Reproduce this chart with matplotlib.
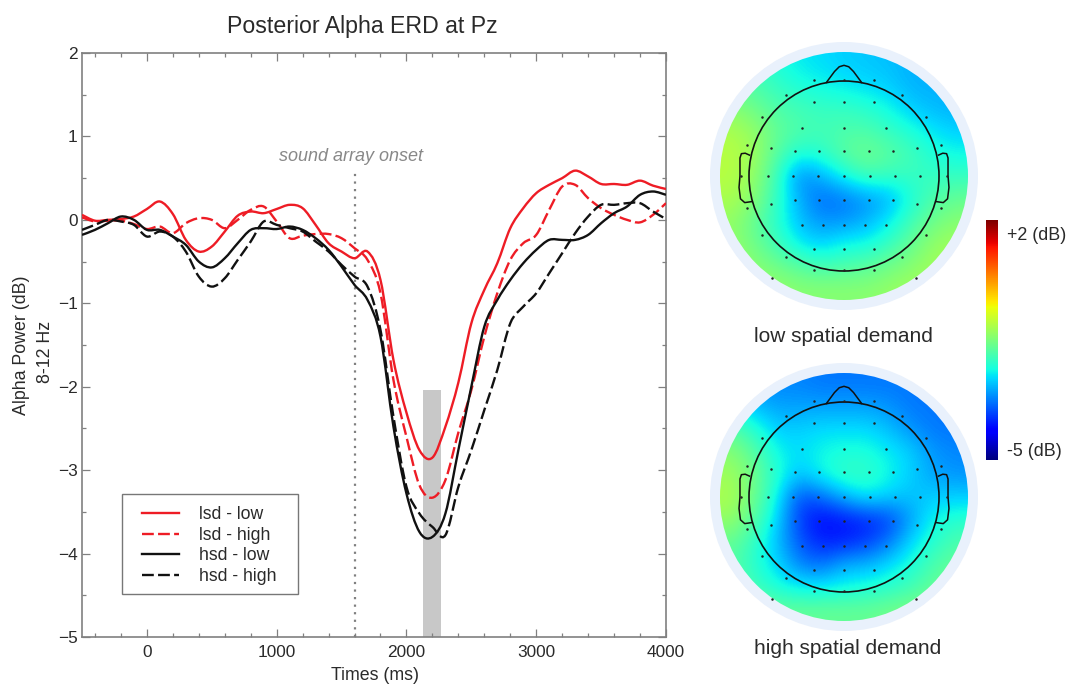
import numpy as np
import matplotlib
matplotlib.use("Agg")
import matplotlib.pyplot as plt
from matplotlib.patches import Circle, PathPatch, Rectangle
from matplotlib.path import Path
from matplotlib.lines import Line2D
from matplotlib.ticker import MultipleLocator

plt.rcParams['font.family'] = ['Liberation Sans', 'DejaVu Sans']

times = [-500,-400,-300,-200,-100,0,100,200,300,400,500,600,700,800,900,1000,1100,1200,1300,1400,1500,1600,
         1700,1800,1900,2000,2100,2200,2300,2400,2500,2600,2700,2800,2900,3000,3100,3200,3300,3400,3500,3600,3700,3800,3900,4000]
lsd_low = [.06,-.01,0,.01,.04,.13,.22,.07,-.24,-.38,-.32,-.14,.05,.10,.08,.13,.18,.14,-.06,-.28,-.38,-.46,
           -.38,-.72,-1.68,-2.31,-2.76,-2.85,-2.48,-1.95,-1.24,-.84,-.52,-.10,.14,.32,.42,.50,.59,.52,.43,.43,.42,.47,.41,.37]
lsd_high = [.03,-.02,-.01,-.01,-.05,-.11,-.08,-.16,-.04,.02,0,-.10,0,.12,.16,-.02,-.22,-.19,-.17,-.17,-.22,-.34,
            -.48,-.88,-1.92,-2.60,-3.18,-3.33,-3.12,-2.55,-2.04,-1.40,-.88,-.48,-.28,-.18,.12,.40,.42,.26,.14,.06,0,-.03,.06,.20]
hsd_low = [-.18,-.12,-.04,.04,0,-.12,-.12,-.20,-.30,-.50,-.57,-.46,-.28,-.12,-.10,-.11,-.08,-.12,-.22,-.36,-.56,-.78,
           -.96,-1.40,-2.48,-3.28,-3.74,-3.80,-3.52,-2.76,-2.0,-1.28,-.96,-.72,-.52,-.36,-.24,-.24,-.24,-.18,-.04,.08,.16,.30,.34,.30]
hsd_high = [-.12,-.06,0,-.02,-.06,-.20,-.14,-.20,-.38,-.68,-.80,-.70,-.48,-.26,-.02,-.06,-.10,-.14,-.26,-.38,-.54,-.68,
            -.80,-1.32,-2.36,-3.20,-3.52,-3.68,-3.78,-3.20,-2.76,-2.28,-1.80,-1.24,-1.04,-.88,-.64,-.40,-.16,.04,.18,.18,.20,.20,.10,.01]
series_labels = ['lsd - low', 'lsd - high', 'hsd - low', 'hsd - high']

topo_low = [
 [-2.0,-2.1,-2.3,-2.5,-2.6,-2.7,-2.75,-2.8,-2.9,-2.9,-2.9],
 [-1.8,-1.9,-2.1,-2.3,-2.4,-2.5,-2.6,-2.7,-2.9,-2.9,-2.9],
 [-1.4,-1.6,-1.9,-2.0,-2.1,-2.1,-2.2,-2.4,-2.7,-2.85,-2.9],
 [-1.1,-1.3,-1.7,-1.9,-2.0,-1.9,-1.9,-2.1,-2.3,-2.55,-2.7],
 [-1.0,-1.2,-1.8,-2.3,-2.2,-1.8,-1.6,-1.8,-2.0,-2.3,-2.4],
 [-1.0,-1.3,-2.0,-3.2,-2.9,-2.4,-2.0,-2.1,-2.1,-2.1,-2.1],
 [-1.1,-1.4,-2.1,-2.9,-3.4,-3.3,-3.1,-2.9,-2.3,-1.9,-1.7],
 [-1.3,-1.7,-2.2,-2.8,-3.1,-3.1,-2.9,-2.5,-2.0,-1.6,-1.4],
 [-1.3,-1.6,-2.0,-2.5,-2.7,-2.4,-2.4,-2.1,-1.7,-1.3,-1.2],
 [-1.2,-1.4,-1.6,-1.8,-2.0,-1.9,-1.8,-1.6,-1.4,-1.2,-1.1],
 [-1.2,-1.2,-1.3,-1.4,-1.4,-1.4,-1.4,-1.3,-1.2,-1.2,-1.2]]
topo_high = [
 [-3.0,-3.1,-3.2,-3.2,-3.3,-3.3,-3.3,-3.3,-3.3,-3.3,-3.3],
 [-2.5,-2.8,-3.0,-3.0,-3.0,-3.0,-3.0,-3.1,-3.3,-3.3,-3.3],
 [-1.8,-2.2,-2.7,-2.7,-2.6,-2.6,-2.6,-2.8,-3.1,-3.3,-3.3],
 [-1.4,-1.8,-2.4,-2.6,-2.4,-2.3,-2.3,-2.5,-2.7,-3.1,-3.2],
 [-1.2,-1.6,-2.2,-2.8,-2.4,-2.1,-2.1,-2.4,-2.7,-3.0,-3.1],
 [-1.1,-1.6,-2.4,-3.6,-3.4,-2.9,-2.5,-2.7,-2.8,-2.7,-2.7],
 [-1.3,-1.8,-2.6,-3.7,-4.1,-4.0,-3.9,-3.7,-3.0,-2.4,-2.2],
 [-1.7,-2.1,-2.8,-3.5,-3.9,-3.9,-3.7,-3.3,-2.6,-2.2,-1.9],
 [-1.8,-2.2,-2.6,-3.2,-3.4,-2.9,-2.9,-2.6,-2.3,-1.9,-1.7],
 [-1.7,-2.0,-2.3,-2.5,-2.5,-2.4,-2.3,-2.2,-2.0,-1.7,-1.6],
 [-1.5,-1.6,-1.7,-1.7,-1.7,-1.7,-1.7,-1.6,-1.5,-1.5,-1.5]]

# electrode positions: (row offset, column offsets) relative to head centre, in head radii
elec_rows = [(-1.007,[-.32,0,.32]),(-.85,[-.615,.615]),(-.78,[-.32,0,.32]),(-.62,[-.86,.86]),(-.51,[-.445,0,.445]),
             (-.33,[-1.02,1.02]),(-.29,[-.77,.77]),(-.26,[-.52,-.26,0,.26,.52]),(0,[-1.08,-.80,-.54,-.27,0,.27,.54,.80,1.08]),
             (.256,[-.52,-.26,0,.26,.52]),(.29,[-.77,.77]),(.333,[-1.02,1.02]),(.52,[-.445,-.225,0,.225,.445]),
             (.625,[-.86,.86]),(.765,[-.32,0,.32]),(.85,[-.615,.615]),(.986,[-.32,0,.32]),(1.07,[-.76,.76])]
nose_x = [-.185,-.10,-.05,0,.05,.10,.185]
nose_y = [-.985,-1.10,-1.15,-1.165,-1.15,-1.10,-.985]
ear_x = [-.995,-1.04,-1.08,-1.095,-1.095,-1.105,-1.09,-1.045,-.975]
ear_y = [-.22,-.24,-.235,-.19,.0,.12,.24,.28,.27]

fig = plt.figure(figsize=(10.66, 6.86), dpi=100)
W, H = 1066, 686

# pixel-space layer for the scalp maps and colour bar
bg = fig.add_axes([0, 0, 1, 1], zorder=0)
bg.axis('off')

VMIN, VMAX = -5, 2
def topo(cx, cy, field):
    bg.add_patch(Circle((cx, cy), 134, fc='#e9f1fc', ec='none', zorder=1))
    R = 124
    im = bg.imshow(np.array(field), cmap='jet', vmin=VMIN, vmax=VMAX, interpolation='bicubic',
                   extent=[cx-R, cx+R, cy+R, cy-R], zorder=2, aspect='auto')
    im.set_clip_path(Circle((cx, cy), R, transform=bg.transData))
    hr = 95
    bg.add_patch(Circle((cx, cy), hr, fc='none', ec='#111111', lw=1.2, zorder=3))
    bg.plot(cx+hr*np.array(nose_x), cy+hr*np.array(nose_y), color='#111111', lw=1.1, zorder=3)
    for s in (1, -1):
        bg.plot(cx+s*hr*np.array(ear_x), cy+hr*np.array(ear_y), color='#111111', lw=1.1, zorder=3)
    for ry, cols in elec_rows:
        bg.plot(cx+hr*np.array(cols), np.full(len(cols), cy+hr*ry), ls='none', marker='o', ms=1.8,
                color='#222222', mew=0, zorder=4)

topo(844, 176, topo_low)
topo(844, 497, topo_high)

grad = np.linspace(VMAX, VMIN, 128).reshape(-1, 1)
bg.imshow(grad, cmap='jet', vmin=VMIN, vmax=VMAX, extent=[986, 998, 460, 220], aspect='auto', zorder=2)
bg.set_xlim(0, W); bg.set_ylim(H, 0)

tc = '#2a2a2a'
bg.text(1007, 235, '+2 (dB)', fontsize=12.9, va='center', color=tc)
bg.text(1007, 452, '-5 (dB)', fontsize=12.9, va='center', color=tc)
bg.text(843.5, 337, 'low spatial demand', fontsize=15, ha='center', va='center', color=tc)
bg.text(848, 649, 'high spatial demand', fontsize=15, ha='center', va='center', color=tc)

# line chart
x0, x1, y0, y1 = 82, 666, 53, 637
ax = fig.add_axes([x0/W, 1-y1/H, (x1-x0)/W, (y1-y0)/H], zorder=1)
ax.set_xlim(-500, 4000); ax.set_ylim(-5, 2)

ax.fill_between([2128, 2265], -5, -2.04, color='#c8c8c8', lw=0, zorder=1)
ax.plot([1600, 1600], [-5, .6], color='#808080', lw=1.6, ls=(0, (1, 2.4)), zorder=2)

def smooth_path(xs, ys):
    p = np.column_stack([xs, ys]).astype(float)
    q = np.vstack([p[0], p, p[-1]])
    verts = [p[0]]
    codes = [Path.MOVETO]
    for i in range(1, len(q)-2):
        verts += [q[i]+(q[i+1]-q[i-1])/6, q[i+1]-(q[i+2]-q[i])/6, q[i+1]]
        codes += [Path.CURVE4]*3
    return Path(verts, codes)

LW = 1.7
dash = (0, (5, 1.8))
styles = [('#ee1c25', '-'), ('#ee1c25', dash), ('#111111', '-'), ('#111111', dash)]
handles = []
for vals, (c, ls), lab in zip([lsd_low, lsd_high, hsd_low, hsd_high], styles, series_labels):
    ax.add_patch(PathPatch(smooth_path(times, vals), fill=False, ec=c, ls=ls, lw=LW, zorder=3, capstyle='butt'))
    handles.append(Line2D([], [], color=c, ls=ls, lw=LW, label=lab))

ax.text(1570, .76, 'sound array onset', color='#888888', style='italic', fontsize=13, ha='center', va='center')

# legend frame and entries
ax.add_patch(Rectangle(((122-x0)/(x1-x0), (y1-594)/(y1-y0)), 176/(x1-x0), 100/(y1-y0), transform=ax.transAxes,
                       fc='white', ec='#777777', lw=1.0, zorder=4))
leg = ax.legend(handles=handles, loc='lower left', bbox_to_anchor=((142-x0)/(x1-x0), (y1-585)/(y1-y0)), fontsize=12.7,
                frameon=False, borderaxespad=0, borderpad=0, handlelength=2.1, handletextpad=1.14,
                labelspacing=.2, labelcolor=tc)
leg.set_zorder(5)

ax.xaxis.set_major_locator(MultipleLocator(1000))
ax.xaxis.set_minor_locator(MultipleLocator(200))
ax.yaxis.set_minor_locator(MultipleLocator(.5))
ax.tick_params(which='major', direction='in', length=5.8, width=.9, color='#808080', top=True, right=True,
               labelsize=12.4, labelcolor=tc)
ax.tick_params(axis='y', which='major', pad=3)
ax.tick_params(axis='x', which='major', pad=6)
ax.tick_params(which='minor', direction='in', length=3, width=.9, color='#808080', top=True, right=True)
for s in ax.spines.values():
    s.set_color('#808080'); s.set_linewidth(1.2)
ax.set_yticks(range(-5, 3))
ax.set_yticklabels(['−5', '−4', '−3', '−2', '−1', '0', '1', '2'])

fig.text(22/W, 1-345/H, 'Alpha Power (dB)', rotation=90, ha='center', va='center', fontsize=12.8, color=tc)
fig.text(46/W, 1-352/H, '8-12 Hz', rotation=90, ha='center', va='center', fontsize=12.8, color=tc)
fig.text(375/W, 1-676/H, 'Times (ms)', ha='center', va='center', fontsize=12.8, color=tc)
fig.text(362/W, 1-27/H, 'Posterior Alpha ERD at Pz', ha='center', va='center', fontsize=16.7, color=tc)

fig.savefig('out.png', dpi=100)
